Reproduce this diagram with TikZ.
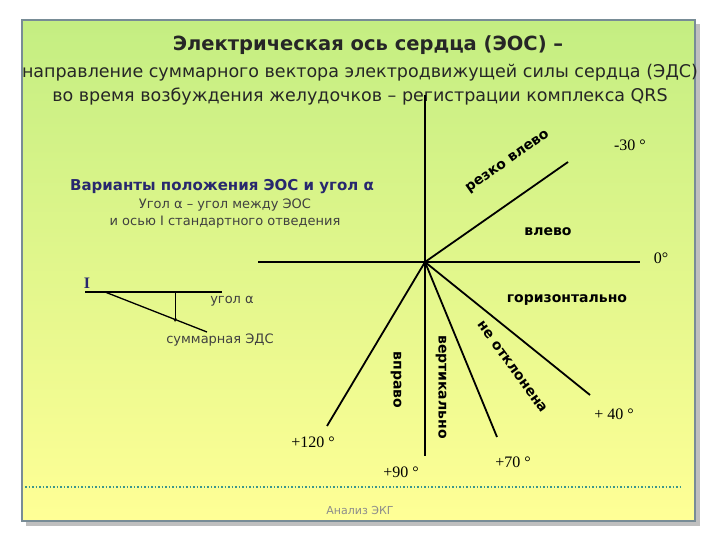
\documentclass[tikz,border=0pt]{standalone}
\usepackage{fontspec}
\setmainfont{DejaVu Sans}
\newfontfamily\serif{Liberation Serif}
\definecolor{dotc}{RGB}{60,150,140}
\definecolor{navy}{RGB}{40,40,110}
\definecolor{topc}{RGB}{196,238,130}
\definecolor{botc}{RGB}{255,255,150}
\definecolor{framec}{RGB}{120,140,150}
\begin{document}
\begin{tikzpicture}[x=1pt,y=-1pt,
  ax/.style={line width=1.8pt},
  bl/.style={font=\bfseries\fontsize{14}{16}\selectfont, inner sep=1pt},
  deg/.style={font=\serif\fontsize{16}{18}\selectfont},
  sub/.style={font=\fontsize{13}{17}\selectfont, text=black!75}]
\useasboundingbox (0,0) rectangle (720,540);
\fill[white] (0,0) rectangle (720,540);
\fill[gray!50] (26,24) rectangle (700,526);
\shade[top color=topc, bottom color=botc, draw=framec, line width=1.5pt] (22,20) rectangle (695,521);
\node[font=\bfseries\fontsize{19.5}{22}\selectfont, text=black!85] (t1) at (368,45) {Электрическая ось сердца (ЭОС) –};
\node[font=\fontsize{17.5}{24}\selectfont, text=black!85, align=center] (t2) at (360,85) {направление суммарного вектора электродвижущей силы сердца (ЭДС)\\ во время возбуждения желудочков – регистрации комплекса QRS};
\node[font=\bfseries\fontsize{15}{17}\selectfont, text=navy] (v) at (222,187) {Варианты положения ЭОС и угол α};
\node[sub, align=center] (s) at (225,214) {Угол α – угол между ЭОС\\ и осью I стандартного отведения};
% main axes
\coordinate (O) at (425,262);
\coordinate (up) at (425,95); \coordinate (dn) at (425,456);
\coordinate (lf) at (258,262); \coordinate (rt) at (640,262);
\coordinate (m30) at (568,162); \coordinate (p40) at (590,395);
\coordinate (p70) at (497,437); \coordinate (p120) at (327,426);
\draw[ax] (up) -- (dn); \draw[ax] (lf) -- (rt);
\draw[ax] (O) -- (m30); \draw[ax] (O) -- (p40);
\draw[ax] (O) -- (p70); \draw[ax] (O) -- (p120);
\node[bl, rotate=35] (rl) at (508,162) {резко влево};
\node[bl] (vl) at (548,232) {влево};
\node[deg] (d0) at (661,258) {0°};
\node[deg] (d30) at (630,145) {-30 °};
\node[bl] (hz) at (567,300) {горизонтально};
\node[bl, rotate=-54] (nt) at (512,367) {не отклонена};
\node[bl, rotate=-90] (vt) at (441,387) {вертикально};
\node[bl, rotate=-90] (vp) at (396,380) {вправо};
\node[deg] (d120) at (313,442) {+120 °};
\node[deg] (d90) at (401,472) {+90 °};
\node[deg] (d70) at (513,462) {+70 °};
\node[deg] (d40) at (614,414) {+ 40 °};
% lead I
\coordinate (Ia) at (85,292); \coordinate (Ib) at (222,292);
\coordinate (Va) at (105,292); \coordinate (Vb) at (207,332);
\draw[line width=1.6pt] (Ia) -- (Ib);
\draw[line width=1.3pt] (Va) -- (Vb);
\draw[line width=0.6pt,-stealth] (175,293) -- (175,322);
\node[font=\serif\bfseries\fontsize{16}{18}\selectfont, text=navy] (I) at (87,283) {I};
\node[sub] (ua) at (232,301) {угол α};
\node[sub] (se) at (220,340) {суммарная ЭДС};
\draw[dotted, line width=1.5pt, dotc] (25,487) -- (680,487);
\node[font=\fontsize{11}{13}\selectfont, text=black!45] (ft) at (360,510) {Анализ ЭКГ};
\end{tikzpicture}
\end{document}
